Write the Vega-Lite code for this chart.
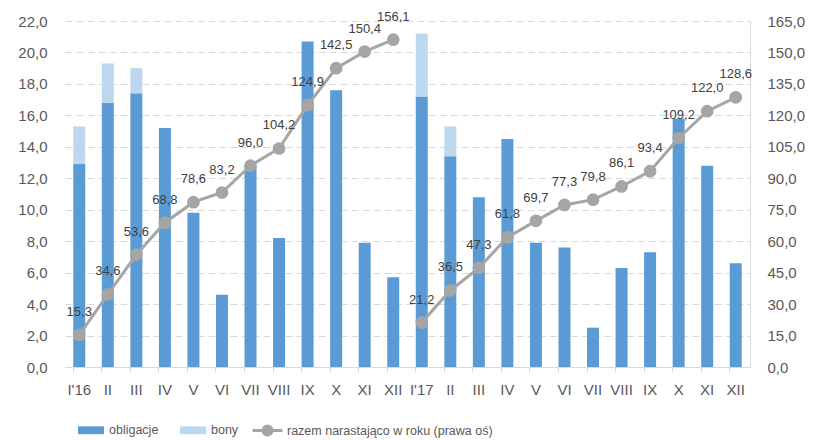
{
  "$schema": "https://vega.github.io/schema/vega-lite/v6.json",
  "width": 685,
  "height": 346,
  "autosize": "none",
  "padding": {"left": 65, "top": 21, "right": 68, "bottom": 73},
  "background": "white",
  "config": {
    "font": "Liberation Sans",
    "view": {"stroke": null},
    "axis": {"labelColor": "#595959", "labelFontSize": 15, "labelFont": "Liberation Sans", "title": null},
    "legend": {"labelColor": "#595959", "labelFontSize": 12.5, "labelFont": "Liberation Sans", "labelLimit": 320}
  },
  "data": {
    "values": [
      {"miesiac": "I'16", "rok": 2016, "obligacje": 12.9, "bony": 2.4, "razem": 15.3},
      {"miesiac": "II'16", "rok": 2016, "obligacje": 16.8, "bony": 2.5, "razem": 34.6},
      {"miesiac": "III'16", "rok": 2016, "obligacje": 17.4, "bony": 1.6, "razem": 53.6},
      {"miesiac": "IV'16", "rok": 2016, "obligacje": 15.2, "bony": 0, "razem": 68.8},
      {"miesiac": "V'16", "rok": 2016, "obligacje": 9.8, "bony": 0, "razem": 78.6},
      {"miesiac": "VI'16", "rok": 2016, "obligacje": 4.6, "bony": 0, "razem": 83.2},
      {"miesiac": "VII'16", "rok": 2016, "obligacje": 12.8, "bony": 0, "razem": 96.0},
      {"miesiac": "VIII'16", "rok": 2016, "obligacje": 8.2, "bony": 0, "razem": 104.2},
      {"miesiac": "IX'16", "rok": 2016, "obligacje": 20.7, "bony": 0, "razem": 124.9},
      {"miesiac": "X'16", "rok": 2016, "obligacje": 17.6, "bony": 0, "razem": 142.5},
      {"miesiac": "XI'16", "rok": 2016, "obligacje": 7.9, "bony": 0, "razem": 150.4},
      {"miesiac": "XII'16", "rok": 2016, "obligacje": 5.7, "bony": 0, "razem": 156.1},
      {"miesiac": "I'17", "rok": 2017, "obligacje": 17.2, "bony": 4.0, "razem": 21.2},
      {"miesiac": "II'17", "rok": 2017, "obligacje": 13.4, "bony": 1.9, "razem": 36.5},
      {"miesiac": "III'17", "rok": 2017, "obligacje": 10.8, "bony": 0, "razem": 47.3},
      {"miesiac": "IV'17", "rok": 2017, "obligacje": 14.5, "bony": 0, "razem": 61.8},
      {"miesiac": "V'17", "rok": 2017, "obligacje": 7.9, "bony": 0, "razem": 69.7},
      {"miesiac": "VI'17", "rok": 2017, "obligacje": 7.6, "bony": 0, "razem": 77.3},
      {"miesiac": "VII'17", "rok": 2017, "obligacje": 2.5, "bony": 0, "razem": 79.8},
      {"miesiac": "VIII'17", "rok": 2017, "obligacje": 6.3, "bony": 0, "razem": 86.1},
      {"miesiac": "IX'17", "rok": 2017, "obligacje": 7.3, "bony": 0, "razem": 93.4},
      {"miesiac": "X'17", "rok": 2017, "obligacje": 15.8, "bony": 0, "razem": 109.2},
      {"miesiac": "XI'17", "rok": 2017, "obligacje": 12.8, "bony": 0, "razem": 122.0},
      {"miesiac": "XII'17", "rok": 2017, "obligacje": 6.6, "bony": 0, "razem": 128.6}
    ]
  },
  "encoding": {
    "x": {
      "field": "miesiac",
      "type": "ordinal",
      "sort": null,
      "scale": {"paddingInner": 0.58, "paddingOuter": 0.29},
      "axis": {
        "labelAngle": 0,
        "labelPadding": 10,
        "bandPosition": 0,
        "tickSize": 5,
        "tickColor": "#d9d9d9",
        "domainColor": "#d9d9d9",
        "grid": false,
        "labelExpr": "indexof(datum.value, \"I'\") == 0 ? datum.value : split(datum.value, \"'\")[0]"
      }
    }
  },
  "layer": [
    {
      "transform": [{"fold": ["obligacje", "bony"], "as": ["rodzaj", "wartosc"]}],
      "mark": {"type": "bar"},
      "encoding": {
        "y": {
          "field": "wartosc",
          "type": "quantitative",
          "stack": "zero",
          "scale": {"domain": [0, 22], "nice": false},
          "axis": {
            "values": [0, 2, 4, 6, 8, 10, 12, 14, 16, 18, 20, 22],
            "labelExpr": "replace(format(datum.value, '.1f'), '.', ',')",
            "domain": false,
            "ticks": false,
            "labelPadding": 18,
            "grid": true,
            "gridColor": "#d9d9d9",
            "gridDash": [7, 4],
            "gridWidth": 1
          }
        },
        "color": {
          "field": "rodzaj",
          "type": "nominal",
          "scale": {"domain": ["obligacje", "bony"], "range": ["#5b9bd5", "#bdd7ee"]},
          "legend": {
            "orient": "none",
            "legendX": 12,
            "legendY": 395,
            "direction": "horizontal",
            "title": null,
            "symbolType": "M-1,-0.3H1V0.3H-1Z",
            "symbolSize": 676,
            "columnPadding": 20,
            "labelOffset": 4
          }
        },
        "order": {"field": "rodzaj", "type": "nominal", "sort": "descending"}
      }
    },
    {
      "encoding": {
        "y": {
          "field": "razem",
          "type": "quantitative",
          "scale": {"domain": [0, 165], "nice": false},
          "axis": {
            "orient": "right",
            "values": [0, 15, 30, 45, 60, 75, 90, 105, 120, 135, 150, 165],
            "labelExpr": "replace(format(datum.value, '.1f'), '.', ',')",
            "grid": false,
            "domain": true,
            "domainColor": "#d9d9d9",
            "ticks": false,
            "labelPadding": 17
          }
        }
      },
      "layer": [
        {
          "mark": {
            "type": "line",
            "color": "#a5a5a5",
            "strokeWidth": 3,
            "point": {"filled": true, "fill": "#a5a5a5", "size": 115}
          },
          "encoding": {
            "detail": {"field": "rok", "type": "nominal"},
            "stroke": {
              "datum": "razem narastająco w roku (prawa oś)",
              "type": "nominal",
              "scale": {"range": ["#a5a5a5"]},
              "legend": {
                "orient": "none",
                "legendX": 186,
                "legendY": 393,
                "title": null,
                "symbolType": "M-1,0H1M0.3,0A0.3,0.3,0,1,1,-0.3,0A0.3,0.3,0,1,1,0.3,0Z",
                "symbolSize": 900,
                "symbolStrokeWidth": 3,
                "symbolFillColor": "#a5a5a5",
                "symbolStrokeColor": "#a5a5a5",
                "labelOffset": 3,
                "labelLimit": 320,
                "encode": {"symbols": {"update": {"fill": {"value": "#a5a5a5"}, "stroke": {"value": "#a5a5a5"}}}}
              }
            }
          }
        },
        {
          "mark": {
            "type": "text",
            "baseline": "middle",
            "dy": -23,
            "fontSize": 13,
            "color": "#404040",
            "text": {"expr": "replace(format(datum.razem, '.1f'), '.', ',')"}
          }
        }
      ]
    }
  ],
  "resolve": {"scale": {"y": "independent"}}
}
